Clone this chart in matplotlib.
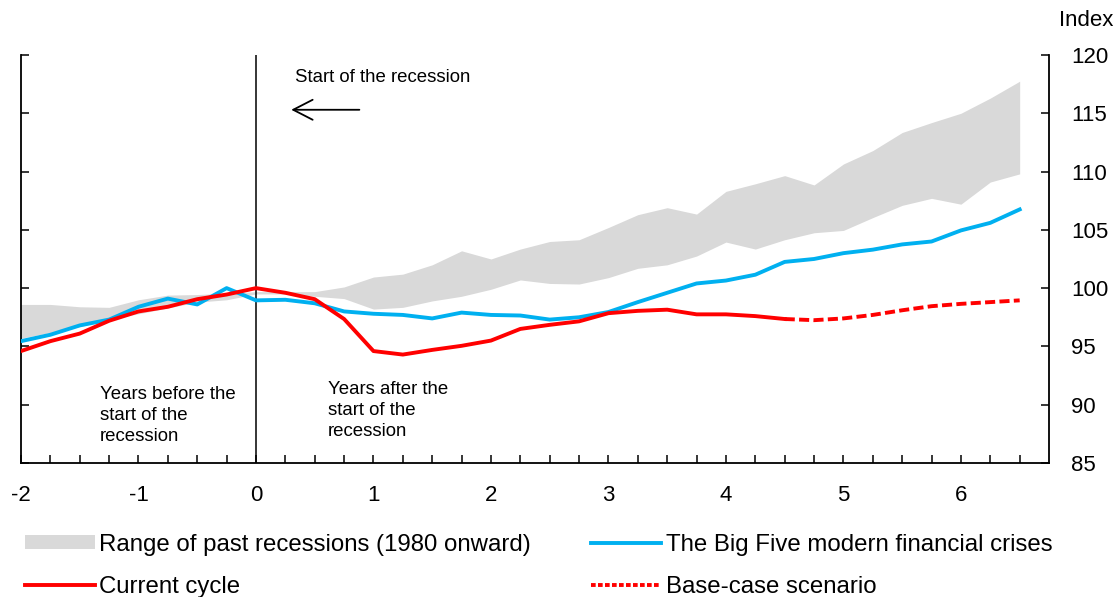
import numpy as np
import matplotlib
matplotlib.use("Agg")
import matplotlib.pyplot as plt
from matplotlib.patches import Patch
from matplotlib.lines import Line2D

# ====== Data ======
quarters = [-2.0, -1.75, -1.5, -1.25, -1.0, -0.75, -0.5, -0.25,
            0.0, 0.25, 0.5, 0.75, 1.0, 1.25, 1.5, 1.75,
            2.0, 2.25, 2.5, 2.75, 3.0, 3.25, 3.5, 3.75,
            4.0, 4.25, 4.5, 4.75, 5.0, 5.25, 5.5, 5.75,
            6.0, 6.25, 6.5]

# range of past recessions (1980 onward)
range_low = [95.7, 96.2, 96.7, 97.3, 97.8, 98.3, 98.8, 99.0,
             99.5, 99.5, 99.3, 99.1, 98.2, 98.35, 98.9, 99.3,
             99.9, 100.7, 100.4, 100.35, 100.9, 101.7, 102.0, 102.75,
             103.95, 103.35, 104.15, 104.75, 104.95, 106.05, 107.1, 107.7,
             107.2, 109.1, 109.8]
range_high = [98.6, 98.6, 98.4, 98.35, 99.0, 99.4, 99.45, 99.55,
              99.7, 99.7, 99.7, 100.1, 100.95, 101.2, 102.0, 103.2,
              102.5, 103.35, 104.0, 104.15, 105.2, 106.3, 106.9, 106.35,
              108.3, 108.95, 109.65, 108.85, 110.65, 111.8, 113.35, 114.2,
              115.0, 116.3, 117.75]

big_five = [95.45, 96.0, 96.8, 97.3, 98.4, 99.1, 98.6, 100.0,
            98.95, 99.0, 98.7, 98.0, 97.8, 97.7, 97.4, 97.9,
            97.7, 97.65, 97.3, 97.5, 97.95, 98.8, 99.6, 100.4,
            100.65, 101.15, 102.25, 102.5, 103.0, 103.3, 103.75, 104.0,
            104.95, 105.6, 106.75]

# current cycle: actual up to 4.5 years, base case after
current_cycle = [94.6, 95.45, 96.1, 97.2, 98.0, 98.4, 99.05, 99.45,
                 100.0, 99.6, 99.05, 97.35, 94.6, 94.3, 94.7, 95.05,
                 95.5, 96.5, 96.85, 97.15, 97.85, 98.05, 98.15, 97.75,
                 97.75, 97.6, 97.35]
base_case = [97.35, 97.25, 97.4, 97.7, 98.1, 98.45, 98.65, 98.8, 98.95]

x_ticks = [-2, -1, 0, 1, 2, 3, 4, 5, 6]
y_ticks = [85, 90, 95, 100, 105, 110, 115, 120]

# ====== Style ======
GREY = "#D9D9D9"
BLUE = "#00B0F0"
RED = "#FF0000"
LW = 2.8

plt.rcParams["font.family"] = ["Liberation Sans", "DejaVu Sans"]

fig = plt.figure(figsize=(11.2, 5.97), dpi=100)
ax = fig.add_axes([0.01875, 0.2245, 0.9179, 0.6834])

n_cur = len(current_cycle)
x_cur = quarters[:n_cur]
x_base = quarters[n_cur - 1:n_cur - 1 + len(base_case)]

ax.fill_between(quarters, range_low, range_high, color=GREY, lw=0, zorder=1)
ax.plot(quarters, big_five, color=BLUE, lw=LW, zorder=3)
ax.plot(x_cur, current_cycle, color=RED, lw=LW, zorder=4)
ax.plot(x_base, base_case, color=RED, lw=LW, dashes=(2.6, 1.1), zorder=4)

ax.axvline(0, color="black", lw=1.1, zorder=2)

ax.set_xlim(-2, 6.75)
ax.set_ylim(85, 120)

ax.set_xticks(x_ticks)
ax.set_xticklabels([str(v) for v in x_ticks])
ax.set_xticks(quarters, minor=True)
ax.set_yticks(y_ticks)

ax.tick_params(axis="x", which="both", direction="in", length=6, width=1.1,
               labelsize=16, pad=15.5)
ax.tick_params(axis="y", direction="in", length=6, width=1.1, left=True,
               right=True, labelleft=False, labelright=True, labelsize=16,
               pad=16)

for side in ["left", "right", "bottom"]:
    ax.spines[side].set_linewidth(1.3)
ax.spines["top"].set_visible(False)

fig.text(0.994, 0.965, "Index", ha="right", va="center", fontsize=16)

# annotations
ax.text(0.33, 118.1, "Start of the recession", fontsize=13.4, va="center",
        ha="left")
ax.annotate("", xy=(0.3, 115.3), xytext=(0.88, 115.3),
            arrowprops=dict(arrowstyle="->,head_length=0.7,head_width=0.36",
                            lw=1.3, color="black", mutation_scale=20,
                            shrinkA=0, shrinkB=0))
ax.text(-1.33, 91.6, "Years before the\nstart of the\nrecession",
        fontsize=13.4, va="top", ha="left", linespacing=1.32)
ax.text(0.61, 92.05, "Years after the\nstart of the\nrecession",
        fontsize=13.4, va="top", ha="left", linespacing=1.32)

handles = [
    Patch(facecolor=GREY, edgecolor="none"),
    Line2D([], [], color=RED, lw=LW),
    Line2D([], [], color=BLUE, lw=LW),
    Line2D([], [], color=RED, lw=LW, dashes=(1.2, 0.6)),
]
labels = [
    "Range of past recessions (1980 onward)",
    "Current cycle",
    "The Big Five modern financial crises",
    "Base-case scenario",
]
fig.legend(handles, labels, ncol=2, loc="upper left",
           bbox_to_anchor=(0.0223, 0.106), frameon=False, fontsize=17.3,
           handlelength=2.9, handleheight=0.55, handletextpad=0.2,
           columnspacing=2.5, labelspacing=0.85, borderaxespad=0,
           borderpad=0)

fig.savefig("out.png", dpi=100)
